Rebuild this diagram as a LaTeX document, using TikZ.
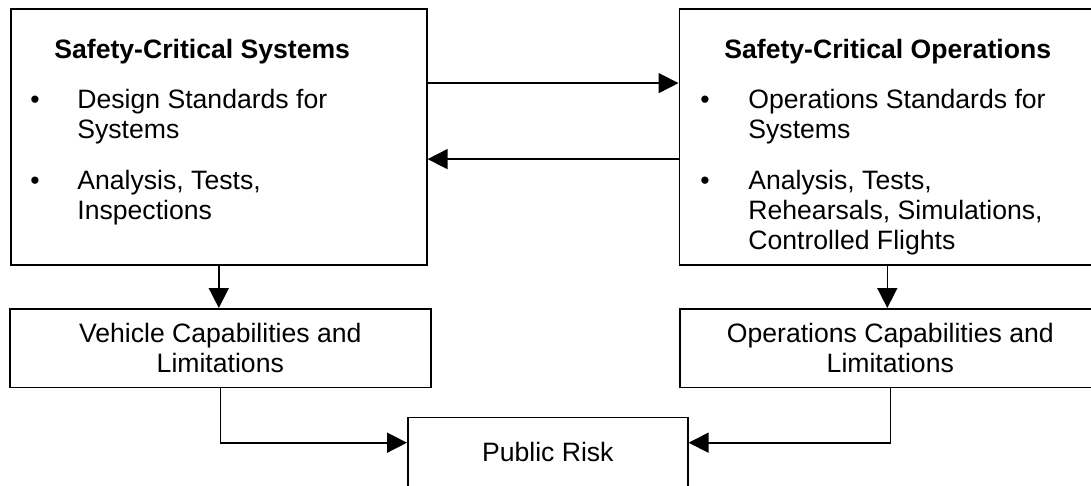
\documentclass[tikz,border=0pt]{standalone}
\usepackage{fontspec}
\setmainfont{Liberation Sans}
\usetikzlibrary{positioning, arrows.meta}

\newcommand{\diagfont}{\fontsize{13.3pt}{15pt}\selectfont}

\begin{document}
\begin{tikzpicture}[x=0.5pt, y=-0.5pt,
		every node/.style={font=\diagfont},
		box/.style={draw, line width=0.8pt, inner sep=0pt},
		bigbox/.style={box, anchor=north west, minimum width=208pt, minimum height=128pt},
		capbox/.style={box, anchor=north west, align=center, minimum width=210.5pt, minimum height=39.35pt},
		itemtext/.style={anchor=base west, inner sep=0pt, align=left},
		bulletmark/.style={anchor=base, inner sep=0pt},
		arr/.style={-{Triangle[length=10pt, width=10pt]}, line width=0.8pt}]
		\useasboundingbox (0,0) rectangle (1091,486);
		\clip (0,0) rectangle (1091,486);

		\node [bigbox] (sys) at (10,8.3) {};
		\node [bigbox] (ops) at (678.5,8.3) {};
		\node [capbox] (veh) at (9,308) {Vehicle Capabilities and\\Limitations};
		\node [capbox] (opscap) at (679,308) {Operations Capabilities and\\Limitations};
		\node [box, anchor=north west, minimum width=140pt, minimum height=38pt, text depth=3.5pt] (risk) at (407,416.7) {Public Risk};

		% text of the two upper boxes (base = last line)
		\node [itemtext, font=\diagfont\bfseries] (systitle) at ([shift={(44,50.7)}]sys.north west) {Safety-Critical Systems};
		\node [bulletmark] (sysdota) at ([shift={(25,100)}]sys.north west) {\textbullet};
		\node [itemtext] (sysa) at ([shift={(67,130)}]sys.north west) {Design Standards for\\Systems};
		\node [bulletmark] (sysdotb) at ([shift={(25,181)}]sys.north west) {\textbullet};
		\node [itemtext] (sysb) at ([shift={(67,211)}]sys.north west) {Analysis, Tests,\\Inspections};

		\node [itemtext, font=\diagfont\bfseries] (opstitle) at ([shift={(45.5,50.7)}]ops.north west) {Safety-Critical Operations};
		\node [bulletmark] (opsdota) at ([shift={(26.5,100)}]ops.north west) {\textbullet};
		\node [itemtext] (opsa) at ([shift={(69.5,130)}]ops.north west) {Operations Standards for\\Systems};
		\node [bulletmark] (opsdotb) at ([shift={(26.5,181)}]ops.north west) {\textbullet};
		\node [itemtext] (opsb) at ([shift={(69.5,241)}]ops.north west) {Analysis, Tests,\\Rehearsals, Simulations,\\Controlled Flights};

		\draw [arr] ([yshift=27pt]sys.east) -- ([yshift=27pt]ops.west);
		\draw [arr] ([yshift=-11pt]ops.west) -- ([yshift=-11pt]sys.east);
		\draw [arr] (sys.south) -- (sys.south |- veh.north);
		\draw [arr] (ops.south) -- (ops.south |- opscap.north);
		\draw [arr] (veh.south) |- ([yshift=-13pt]risk.north west);
		\draw [arr] (opscap.south) |- ([yshift=-13pt]risk.north east);
	\end{tikzpicture}
\end{document}
